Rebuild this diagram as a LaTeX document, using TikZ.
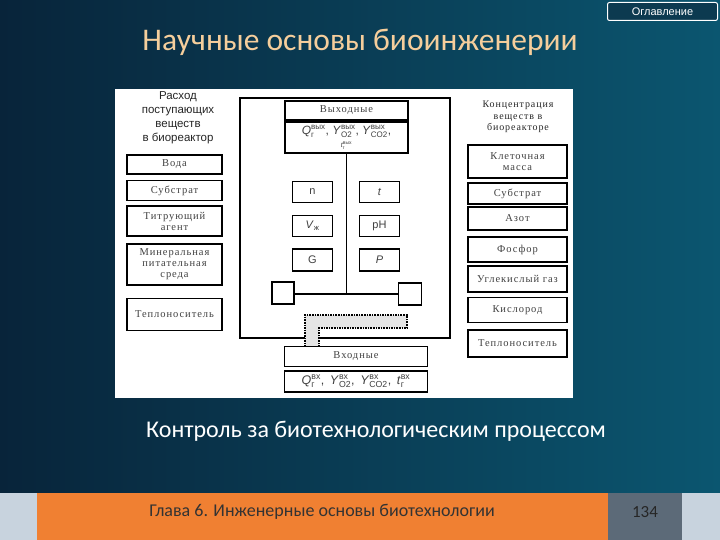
\documentclass[tikz,border=0pt]{standalone}
\usepackage{amsmath}
\usepackage{fontspec}
\setmainfont{Liberation Sans}
\newfontfamily\slidefont{Carlito}
\newfontfamily\boxfont[LetterSpace=9]{Liberation Serif}
\usepackage{xcolor}
\usepackage{tikz}
\usetikzlibrary{positioning}
\definecolor{bgleft}{RGB}{8,36,58}
\definecolor{bgright}{RGB}{11,86,112}
\definecolor{titlecol}{RGB}{245,206,156}
\definecolor{footorange}{RGB}{240,128,50}
\definecolor{footgray}{RGB}{92,106,120}
\definecolor{footlight}{RGB}{200,211,222}
\definecolor{btncol}{RGB}{12,58,80}
% value with lower and upper index, sans letters
\newcommand{\qv}[3]{\textit{#1}$_{\text{#2}}^{\text{#3}}$}
\tikzstyle{box} = [draw, line width=1.1pt, fill=white, align=center, inner sep=1pt, text=black!75, font=\boxfont\fontsize{10.5}{11}\selectfont]
\tikzstyle{var} = [box, minimum width=40pt, font=\fontsize{11}{12}\selectfont]
\tikzstyle{hdr} = [align=center, text=black!85]
\tikzstyle{link} = [line width=1.1pt]

\begin{document}
\begin{tikzpicture}[x=1pt,y=-1pt]
	\useasboundingbox (0,0) rectangle (720,540);
	
	%Background
	\shade[left color=bgleft, right color=bgright] (0,0) rectangle (720,493);
	\fill[footlight] (0,493) rectangle (720,540);
	\fill[footorange] (37,493) rectangle (608,540);
	\fill[footgray] (608,493) rectangle (682,540);
	\fill[white] (115,89) rectangle (573,398);
	
	% Title and button:
	\node[text=titlecol, font=\slidefont\fontsize{31.5}{34}\selectfont] (title) at (360,42) {Научные основы биоинженерии};
	\node[draw=white, line width=1pt, fill=btncol, rounded corners=2pt, minimum width=110pt, minimum height=18pt, text=white, font=\fontsize{11}{12}\selectfont] (toc) at (662.5,11.5) {Оглавление};
	
	% Left column: inflow
	\node[hdr, font=\fontsize{11.5}{14}\selectfont] (inhdr) at (178,118) {Расход\\поступающих\\веществ\\в биореактор};
	\node[box, minimum width=95pt, minimum height=19pt] (water) at (174.5,164.5) {Вода};
	\node[box, minimum width=95pt, minimum height=20pt] (subL) at (174.5,190.5) {Субстрат};
	\node[box, minimum width=95pt, minimum height=30pt] (titr) at (174.5,221) {Титрующий\\агент};
	\node[box, minimum width=95pt, minimum height=41pt] (mineral) at (174.5,264.5) {Минеральная\\питательная\\среда};
	\node[box, minimum width=95pt, minimum height=32pt] (heatL) at (174.5,314.5) {Теплоноситель};
	
	% Middle: reactor
	\draw[link] (240,98) rectangle (450,338);
	\node[box, minimum width=123pt, minimum height=19pt] (out) at (346.5,110.5) {Выходные};
	\node[box, minimum width=123pt, minimum height=31pt, font=\fontsize{12}{14}\selectfont] (qout) at (346.5,137.5)
		{\qv{Q}{г}{вых}, \qv{Y}{O2}{вых}, \qv{Y}{CO2}{вых},\\[-1pt] \scriptsize\qv{t}{г}{вых}};
	\node[var, minimum height=21pt] (n) at (312.5,192) {n};
	\node[var, minimum height=21pt] (t) at (379.5,192) {\textit{t}};
	\node[var, minimum height=21pt] (V) at (312.5,226) {\textit{V}$_{\text{ж}}$};
	\node[var, minimum height=21pt] (pH) at (379.5,226) {pH};
	\node[var, minimum height=22pt] (G) at (312.5,260) {G};
	\node[var, minimum height=22pt] (P) at (379.5,260) {\textit{P}};
	\node[box, minimum width=22pt, minimum height=22pt] (sqL) at (283,293) {};
	\node[box, minimum width=23pt, minimum height=22pt] (sqR) at (410,294) {};
	\coordinate (hub) at (qout.south |- sqR.west);
	\draw[link] (qout.south) -- (hub);
	\draw[link] (sqL.east |- hub) -- (sqR.west);
	
	% Dotted feed line
	\fill[black!10] (305,347) -- (305,315) -- (407,315) -- (407,328) -- (319,328) -- (319,347) -- cycle;
	\draw[line width=1.6pt, densely dotted] (305,347) -- (305,315) -- (407,315) -- (407,328) -- (319,328) -- (319,347);
	
	\node[box, minimum width=143pt, minimum height=20pt] (in) at (356,356.5) {Входные};
	\node[box, minimum width=143pt, minimum height=21pt, font=\fontsize{12.5}{13}\selectfont] (qin) at (356,381.5)
		{\qv{Q}{г}{вх},\, \qv{Y}{O2}{вх},\, \qv{Y}{CO2}{вх},\, \qv{t}{г}{вх}};
	
	% Right column: concentrations
	\node[hdr, font=\boxfont\fontsize{10}{11.5}\selectfont] (conchdr) at (518,117) {Концентрация\\веществ в\\биореакторе};
	\node[box, minimum width=99pt, minimum height=33pt] (cells) at (517.5,161.5) {Клеточная\\масса};
	\node[box, minimum width=99pt, minimum height=21pt] (subR) at (517.5,193.5) {Субстрат};
	\node[box, minimum width=99pt, minimum height=23pt] (nitro) at (517.5,218.5) {Азот};
	\node[box, minimum width=99pt, minimum height=25pt] (phos) at (517.5,249.5) {Фосфор};
	\node[box, minimum width=99pt, minimum height=26pt] (co2) at (517.5,279) {Углекислый газ};
	\node[box, minimum width=99pt, minimum height=25pt] (o2) at (517.5,310) {Кислород};
	\node[box, minimum width=99pt, minimum height=27pt] (heatR) at (517.5,343.5) {Теплоноситель};
	
	% Subtitle and footer
	\node[text=white, font=\slidefont\fontsize{24}{27}\selectfont] (sub) at (376,431) {Контроль за биотехнологическим процессом};
	\node[text=black!80, font=\slidefont\fontsize{18}{20}\selectfont] (chap) at (322,512) {Глава 6. Инженерные основы биотехнологии};
	\node[text=black!85, font=\slidefont\fontsize{17}{19}\selectfont] (page) at (645,512) {134};
	
\end{tikzpicture}
\end{document}
